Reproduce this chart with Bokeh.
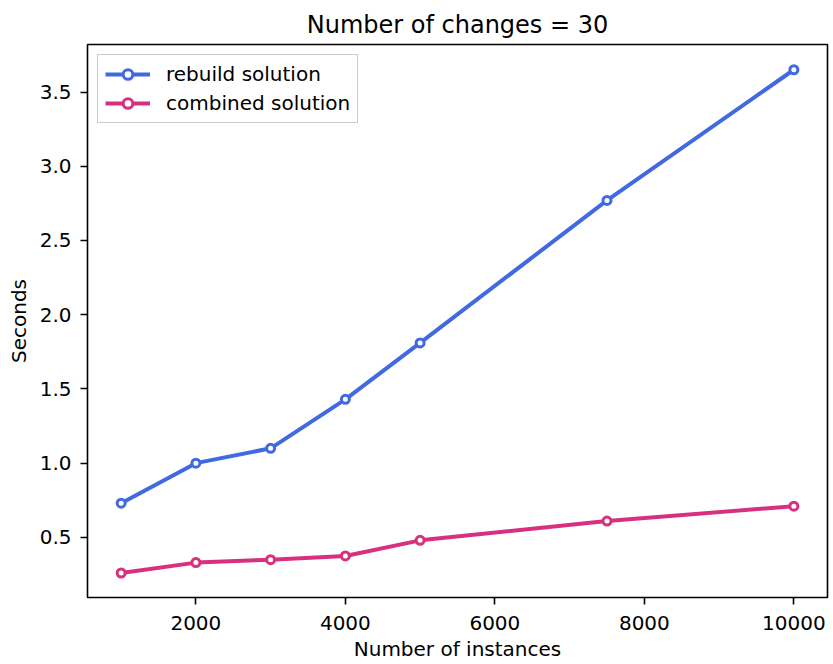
from bokeh.plotting import figure
from bokeh.models import Range1d, Legend, LegendItem, FixedTicker, NumeralTickFormatter
from bokeh.embed import file_html
from bokeh.resources import INLINE

instances = [1000, 2000, 3000, 4000, 5000, 7500, 10000]
rebuild = [0.73, 1.00, 1.10, 1.43, 1.81, 2.77, 3.65]
combined = [0.26, 0.33, 0.35, 0.375, 0.48, 0.61, 0.71]

x_ticks = [2000, 4000, 6000, 8000, 10000]
y_ticks = [0.5, 1.0, 1.5, 2.0, 2.5, 3.0, 3.5]

BLUE = "#4169E1"
PINK = "#D6307F"
FONT = "DejaVu Sans"

p = figure(width=833, height=664, output_backend="svg", toolbar_location=None,
           x_range=Range1d(550, 10450), y_range=Range1d(0.095, 3.82),
           min_border_left=87, min_border_right=6, min_border_top=44, min_border_bottom=67)

p.title.text = "Number of changes = 30"
p.title.align = "center"
p.title.text_font = FONT
p.title.text_font_size = "24px"
p.title.text_font_style = "normal"
p.title.text_color = "black"
p.title.offset = 0
p.title.standoff = 11

p.xgrid.visible = False
p.ygrid.visible = False
p.outline_line_color = "black"
p.outline_line_width = 1.6
p.outline_line_alpha = 1
p.background_fill_color = "white"
p.border_fill_color = "white"

for ax in (p.xaxis[0], p.yaxis[0]):
    ax.axis_line_color = None
    ax.major_tick_out = 7
    ax.major_tick_in = 0
    ax.minor_tick_line_color = None
    ax.major_tick_line_width = 1.6
    ax.major_tick_line_color = "black"
    ax.major_label_text_font = FONT
    ax.major_label_text_font_size = "20px"
    ax.major_label_text_color = "black"
    ax.axis_label_text_font = FONT
    ax.axis_label_text_font_size = "20px"
    ax.axis_label_text_font_style = "normal"
    ax.axis_label_text_color = "black"

p.xaxis.ticker = FixedTicker(ticks=x_ticks)
p.yaxis.ticker = FixedTicker(ticks=y_ticks)
p.yaxis.formatter = NumeralTickFormatter(format="0.0")
p.xaxis.axis_label = "Number of instances"
p.yaxis.axis_label = "Seconds"
p.xaxis.major_label_standoff = 11
p.yaxis.major_label_standoff = 9
p.xaxis.axis_label_standoff = 4
p.yaxis.axis_label_standoff = 6

r1 = p.line(instances, rebuild, line_color=BLUE, line_width=4)
m1 = p.scatter(instances, rebuild, marker="circle", size=8, fill_color="white",
               line_color=BLUE, line_width=3)
r2 = p.line(instances, combined, line_color=PINK, line_width=4)
m2 = p.scatter(instances, combined, marker="circle", size=8, fill_color="white",
               line_color=PINK, line_width=3)

legend = Legend(items=[
    LegendItem(label="rebuild solution", renderers=[r1, m1]),
    LegendItem(label="combined solution", renderers=[r2, m2]),
], location="top_left")
legend.label_text_font = FONT
legend.label_text_font_size = "20px"
legend.label_text_color = "black"
legend.border_line_color = "#cccccc"
legend.border_line_width = 1.5
legend.border_line_alpha = 1
legend.background_fill_alpha = 0.9
legend.margin = 10
legend.padding = 7
legend.spacing = 5
legend.glyph_width = 45
legend.label_standoff = 16
legend.label_height = 24
legend.glyph_height = 24
p.add_layout(legend)

open("out.html", "w").write(file_html(p, INLINE))
